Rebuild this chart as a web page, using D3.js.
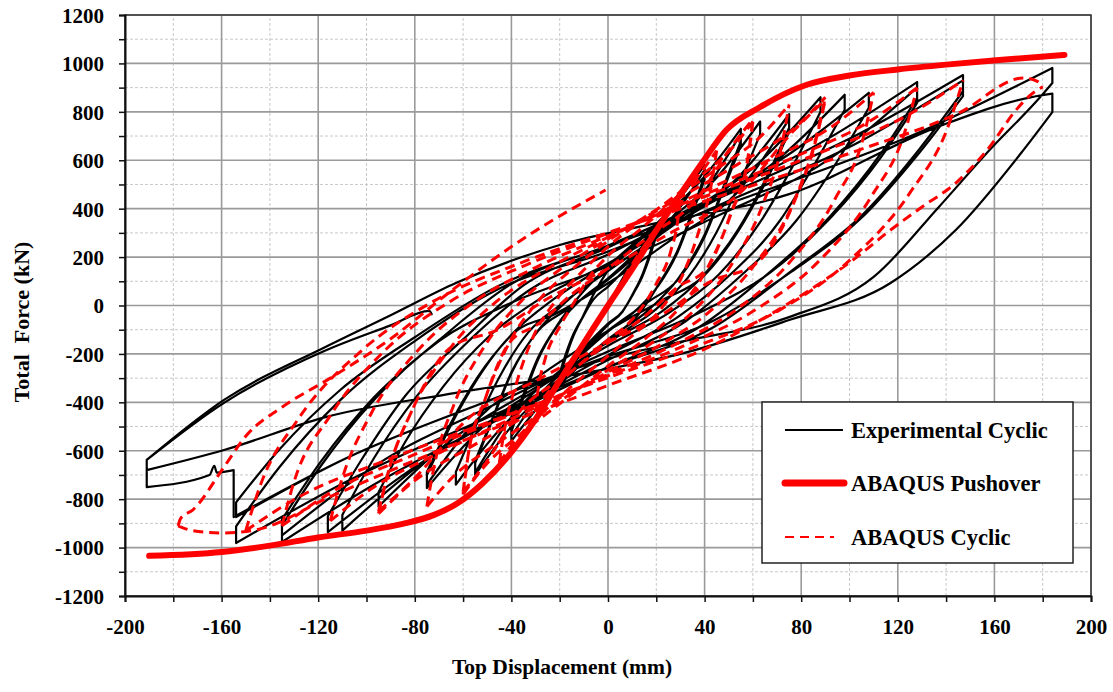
<!DOCTYPE html>
<html>
<head>
<meta charset="utf-8">
<script src="https://cdn.jsdelivr.net/npm/d3@7"></script>
<style>
  body { margin: 0; background: #fff; }
  svg { font-family: "Liberation Serif", "Times New Roman", serif; font-weight: bold; }
</style>
</head>
<body>
<svg id="chart" width="1113" height="692"></svg>
<script>
// axis ticks
var xTicks = [-200, -160, -120, -80, -40, 0, 40, 80, 120, 160, 200];
var yTicks = [-1200, -1000, -800, -600, -400, -200, 0, 200, 400, 600, 800, 1000, 1200];

// experimental cyclic test, [displacement mm, force kN], loop by loop
var exp20a = [[0,0],[6,110],[12,210],[17,290],[20,330],[20,307],[17.6,224],[14.4,132],[10.4,50],[6,-26],[0,-80],[-7,-154],[-14,-234],[-20,-320]];
var exp20b = [[-20,-298],[-17.6,-218],[-14.4,-128],[-10.4,-48],[-6,25],[0,78],[7,149],[14,226],[20,310],[20,288],[17.6,211],[14.4,124],[10.4,47],[6,-24],[0,-75],[-7,-144],[-14,-219],[-20,-300]];
var exp40a = [[-20,-279],[-17.6,-204],[-14.4,-120],[-10.4,-45],[-6,46],[0,145],[14,278],[28,423],[40,580],[40,539],[35,394],[29,232],[21,87],[12,-45],[0,-140],[-14,-269],[-28,-409],[-40,-560]];
var exp40b = [[-40,-521],[-35,-381],[-29,-224],[-21,-84],[-12,17],[0,112],[14,241],[28,381],[40,560],[40,521],[35,381],[29,224],[21,84],[12,-16],[0,-108],[-14,-232],[-28,-367],[-40,-540]];
var exp55a = [[-40,-502],[-35,-367],[-29,-216],[-21,-81],[-12,37],[0,161],[19,329],[38,511],[55,730],[55,679],[48,496],[40,292],[29,110],[16.5,-21],[0,-140],[-19,-301],[-38,-476],[-55,-700]];
var exp55b = [[-55,-651],[-48,-476],[-40,-280],[-29,-105],[-16.5,-14],[0,107],[19,270],[38,447],[55,710],[55,660],[48,483],[40,284],[29,107],[16.5,14],[0,-104],[-19,-262],[-38,-435],[-55,-690]];
var exp63 = [[-55,-642],[-48,-469],[-40,-276],[-29,-104],[-16.5,23],[0,152],[22,327],[44,517],[63,760],[63,707],[55,517],[45,304],[33,114],[19,-22],[0,-148],[-22,-318],[-44,-503],[-63,-740]];
var exp75a = [[-63,-688],[-55,-503],[-45,-296],[-33,-111],[-19,8],[0,142],[26,324],[53,521],[75,790],[75,735],[66,537],[54,316],[39,119],[22.5,-23],[0,-151],[-26,-324],[-53,-513],[-75,-754]];
var exp75b = [[-75,-701],[-66,-513],[-54,-302],[-39,-113],[-22.5,-38],[0,92],[26,270],[53,462],[75,770],[75,716],[66,524],[54,308],[39,116],[22.5,22],[0,-104],[-26,-274],[-53,-459],[-75,-740]];
var exp90 = [[-75,-688],[-66,-503],[-54,-296],[-39,-111],[-22.5,26],[0,172],[31,370],[62,585],[88,860],[88,800],[77,585],[63,344],[46,129],[26,-25],[0,-166],[-33,-357],[-66,-564],[-95,-830]];
var exp100 = [[-95,-772],[-84,-564],[-68,-332],[-49,-125],[-28.5,26],[0,174],[34,374],[69,592],[98,870],[98,809],[86,592],[71,348],[51,131],[29,-47],[0,-205],[-38.5,-419],[-77,-651],[-110,-930]];
var exp110 = [[-110,-865],[-97,-632],[-79,-372],[-57,-140],[-33,61],[0,211],[38,413],[76,632],[108,878],[108,817],[95,597],[78,351],[56,132],[32,-66],[0,-225],[-41,-440],[-81,-674],[-116,-936]];
var exp130a = [[-116,-870],[-102,-636],[-84,-374],[-60,-140],[-35,83],[0,240],[45,452],[90,683],[128,923],[128,858],[113,628],[92,369],[67,138],[38,-88],[0,-254],[-47,-479],[-94,-723],[-135,-977]];
var exp130b = [[-135,-909],[-119,-664],[-97,-391],[-70,-147],[-40.5,9],[0,162],[45,369],[90,594],[128,900],[128,837],[113,612],[92,360],[67,135],[38,-29],[0,-190],[-47,-409],[-94,-646],[-135,-950]];
var exp150a = [[-135,-884],[-119,-646],[-97,-380],[-70,-143],[-40.5,86],[0,248],[51,466],[103,704],[147,952],[147,885],[129,647],[106,381],[76,143],[44,-88],[0,-255],[-54,-481],[-108,-726],[-154,-981]];
var exp150b = [[-154,-912],[-136,-667],[-111,-392],[-80,-147],[-46,65],[0,223],[51,437],[103,670],[147,930],[147,865],[129,632],[106,372],[76,140],[44,-61],[0,-210],[-54,-411],[-108,-629],[-154,-874]];
var exp185a = [[-154,-813],[-136,-594],[-111,-350],[-80,-131],[-46,78],[0,245],[64,471],[129,716],[184,981],[184,919],[179,861],[158,642],[137,407],[110,118],[75,-48],[30,-150],[0,-219],[-54,-411],[-108,-629],[-155,-874],[-155,-680],[-162,-690],[-163,-662],[-165,-700],[-191,-750],[-191,-638]];
var exp185b = [[-159,-390],[-117,-171],[-90,-40],[-63,93],[-20,250],[20,340],[75,460],[137,740],[175,860],[184,875],[184,799],[172,642],[144,312],[117,93],[75,-60],[30,-200],[-3,-267],[-63,-361],[-117,-461],[-159,-597],[-191,-680],[-191,-638]];
var expEnd = [[-159,-402],[-117,-186],[-90,-82],[-74,-22],[-73,-36]];

// ABAQUS cyclic analysis
var abq30 = [[0,0],[10,170],[20,320],[30,450],[29,360],[26,225],[20,90],[14,-9],[8,-79],[0,-141],[-9,-220],[-18,-299],[-26,-374],[-30,-440]];
var abq45 = [[-29,-352],[-26,-220],[-20,-88],[-14,13],[-8,115],[0,205],[14,320],[27,435],[38,544],[45,640],[43,512],[38,320],[31,128],[22,-13],[11,-117],[0,-208],[-14,-325],[-27,-442],[-38,-553],[-45,-650]];
var abq60a = [[-43,-520],[-38,-325],[-31,-130],[-22,15],[-11,137],[0,243],[18,380],[36,517],[51,646],[60,760],[58,608],[51,380],[41,152],[29,-16],[15,-140],[0,-250],[-18,-390],[-36,-530],[-51,-663],[-60,-780]];
var abq60b = [[-58,-624],[-51,-390],[-41,-156],[-29,-77],[-15,46],[0,154],[18,293],[36,431],[51,655],[60,770],[58,616],[51,385],[41,154],[29,77],[15,-46],[0,-154],[-18,-293],[-36,-431],[-51,-655],[-60,-770]];
var abq75 = [[-58,-624],[-51,-390],[-41,-156],[-29,17],[-15,149],[0,266],[23,415],[45,564],[64,706],[75,830],[72,664],[64,415],[51,166],[36,-17],[19,-149],[0,-266],[-23,-415],[-45,-564],[-64,-706],[-75,-830]];
var abq90a = [[-72,-664],[-64,-415],[-51,-166],[-36,17],[-19,155],[0,275],[27,430],[54,585],[77,731],[90,860],[86,688],[77,430],[61,172],[43,-17],[23,-155],[0,-275],[-29,-430],[-57,-585],[-81,-731],[-95,-860]];
var abq90b = [[-91,-688],[-81,-430],[-65,-172],[-46,-102],[-24,34],[0,153],[27,306],[54,459],[77,723],[90,850],[86,680],[77,425],[61,170],[43,102],[23,-34],[0,-153],[-29,-306],[-57,-459],[-81,-723],[-95,-850]];
var abq110 = [[-91,-688],[-81,-430],[-65,-172],[-46,18],[-24,158],[0,282],[33,440],[66,598],[94,748],[110,880],[106,704],[94,440],[75,176],[53,-18],[28,-160],[0,-285],[-35,-445],[-69,-605],[-98,-757],[-115,-890]];
var abq130 = [[-110,-712],[-98,-445],[-78,-178],[-55,18],[-29,162],[0,288],[38,450],[77,612],[109,765],[128,900],[123,720],[109,450],[87,180],[61,-18],[32,-164],[0,-291],[-41,-455],[-81,-619],[-115,-774],[-135,-910]];
var abq150 = [[-130,-728],[-115,-455],[-92,-182],[-65,19],[-34,167],[0,298],[44,465],[88,632],[125,791],[147,930],[141,744],[125,465],[100,186],[71,-19],[37,-167],[0,-298],[-45,-465],[-90,-632],[-128,-791],[-150,-930]];
var abq175 = [[-144,-744],[-128,-465],[-102,-186],[-72,19],[-38,169],[0,301],[52,470],[103,639],[146,799],[172,940],[178,925],[180,903],[175,870],[169,808],[158,655],[144,506],[130,407],[117,312],[103,200],[75,10],[40,-180],[0,-330],[-40,-480],[-80,-640],[-115,-790],[-145,-925],[-160,-940],[-172,-930],[-178,-910],[-177,-880]];
var abqEnd = [[-172,-845],[-159,-667],[-150,-540],[-135,-420],[-115,-300],[-89,-130],[-65,60],[-36,270],[-1,477]];

// ABAQUS pushover (monotonic), both directions
var pushNeg = [[-190,-1034],[-160,-1018],[-140,-992],[-120,-958],[-100,-930],[-85,-902],[-72,-865],[-62,-815],[-52,-735],[-42,-630],[-30,-470],[-20,-310],[-10,-155]];
var pushPos = [[0,0],[10,150],[20,310],[30,460],[39,590],[49,725],[63,820],[82,911],[100,950],[120,975],[140,995],[162,1014],[189,1035]];

var svg = d3.select("#chart");
var x = d3.scaleLinear().domain([-200, 200]).range([125, 1091]);
var y = d3.scaleLinear().domain([-1200, 1200]).range([596, 15]);

// grid: minor dashed, then major solid
var g = svg.append("g");
var xMinor = d3.range(-180, 200, 40);
var yMinor = d3.range(-1100, 1200, 200);
g.selectAll(".xm").data(xMinor).enter().append("line")
  .attr("x1", d => x(d)).attr("x2", d => x(d)).attr("y1", y(-1200)).attr("y2", y(1200))
  .attr("stroke", "#c8c8c8").attr("stroke-width", 1).attr("stroke-dasharray", "3,2");
g.selectAll(".ym").data(yMinor).enter().append("line")
  .attr("x1", x(-200)).attr("x2", x(200)).attr("y1", d => y(d)).attr("y2", d => y(d))
  .attr("stroke", "#c8c8c8").attr("stroke-width", 1).attr("stroke-dasharray", "3,2");
g.selectAll(".xM").data(xTicks).enter().append("line")
  .attr("x1", d => x(d)).attr("x2", d => x(d)).attr("y1", y(-1200)).attr("y2", y(1200))
  .attr("stroke", "#9a9a9a").attr("stroke-width", 1.6);
g.selectAll(".yM").data(yTicks).enter().append("line")
  .attr("x1", x(-200)).attr("x2", x(200)).attr("y1", d => y(d)).attr("y2", d => y(d))
  .attr("stroke", "#9a9a9a").attr("stroke-width", 1.6);

// frame
svg.append("rect").attr("x", x(-200)).attr("y", y(1200))
  .attr("width", x(200) - x(-200)).attr("height", y(-1200) - y(1200))
  .attr("fill", "none").attr("stroke", "#333").attr("stroke-width", 1.5);

// axes
var xAxis = d3.axisBottom(x).tickValues(d3.range(-200, 201, 20))
  .tickSize(6).tickFormat(d => xTicks.indexOf(d) >= 0 ? d : "");
var yAxis = d3.axisLeft(y).tickValues(d3.range(-1200, 1201, 100))
  .tickSize(6).tickFormat(d => yTicks.indexOf(d) >= 0 ? d : "");

var gx = svg.append("g").attr("transform", "translate(0," + y(-1200) + ")").call(xAxis);
var gy = svg.append("g").attr("transform", "translate(" + x(-200) + ",0)").call(yAxis);
[gx, gy].forEach(function (a) {
  a.select(".domain").attr("stroke", "#111").attr("stroke-width", 2);
  a.selectAll(".tick line").attr("stroke", "#111").attr("stroke-width", 1.5);
  a.selectAll("text").attr("fill", "#000").style("font-size", "21px")
    .style("font-family", "'Liberation Serif', serif").style("font-weight", "bold");
});
gx.selectAll("text").attr("dy", "1.4em");
gy.selectAll("text").attr("x", -21).attr("dy", "0.35em");

svg.append("text").attr("x", 562).attr("y", 674).attr("text-anchor", "middle")
  .style("font-size", "21.5px").text("Top Displacement (mm)");
svg.append("text").attr("transform", "translate(29,322) rotate(-90)").attr("text-anchor", "middle")
  .style("font-size", "22px").style("white-space", "pre").attr("xml:space", "preserve")
  .text("Total  Force (kN)");

// split a path where the displacement turns back, so each branch is drawn smooth and tips stay sharp
var smooth = d3.line().x(d => x(d[0])).y(d => y(d[1])).curve(d3.curveMonotoneX);
var straight = d3.line().x(d => x(d[0])).y(d => y(d[1]));
function branches(pts) {
  var out = [], cur = [pts[0]], dir = 0;
  for (var i = 1; i < pts.length; i++) {
    var dx = pts[i][0] - pts[i - 1][0];
    var s = dx > 0 ? 1 : (dx < 0 ? -1 : 0);
    if (cur.length === 1) { dir = s; cur.push(pts[i]); continue; }
    if (s === dir && s !== 0) { cur.push(pts[i]); }
    else { out.push({ pts: cur, dir: dir }); cur = [pts[i - 1], pts[i]]; dir = s; }
  }
  out.push({ pts: cur, dir: dir });
  return out.map(function (b) {
    if (b.dir === 0) return straight(b.pts);
    var p = b.dir < 0 ? b.pts.slice().reverse() : b.pts;
    return smooth(p);
  }).join("");
}

var plot = svg.append("g");

var expPath = [].concat(exp20a, exp20b, exp40a, exp40b, exp55a, exp55b, exp63, exp75a, exp75b, exp90, exp100, exp110,
  exp130a, exp130b, exp150a, exp150b, exp185a, exp185b, expEnd);
plot.append("path").attr("d", branches(expPath))
  .attr("fill", "none").attr("stroke", "#000").attr("stroke-width", 2.2)
  .attr("stroke-linejoin", "round").attr("stroke-linecap", "round");

var abqPath = [].concat(abq30, abq45, abq60a, abq60b, abq75, abq90a, abq90b, abq110, abq130, abq150, abq175, abqEnd);
plot.append("path").attr("d", branches(abqPath))
  .attr("fill", "none").attr("stroke", "#ff0000").attr("stroke-width", 3).attr("stroke-dasharray", "10,6");

plot.append("path").attr("d", smooth([].concat(pushNeg, pushPos)))
  .attr("fill", "none").attr("stroke", "#ff0000").attr("stroke-width", 6).attr("stroke-linecap", "round");

// legend
var lg = svg.append("g");
lg.append("rect").attr("x", 762).attr("y", 402).attr("width", 311).attr("height", 161)
  .attr("fill", "#fff").attr("stroke", "#222").attr("stroke-width", 1.5);
var legendItems = [
  { label: "Experimental Cyclic", stroke: "#000", width: 2, dash: null, y: 430, x1: 785, x2: 843 },
  { label: "ABAQUS Pushover", stroke: "#ff0000", width: 7, dash: null, y: 483, x1: 785, x2: 844 },
  { label: "ABAQUS Cyclic", stroke: "#ff0000", width: 2, dash: "9,6", y: 537, x1: 785, x2: 834 }
];
legendItems.forEach(function (it) {
  lg.append("line").attr("x1", it.x1).attr("x2", it.x2).attr("y1", it.y).attr("y2", it.y)
    .attr("stroke", it.stroke).attr("stroke-width", it.width)
    .attr("stroke-linecap", it.width > 4 ? "round" : "butt")
    .attr("stroke-dasharray", it.dash);
  lg.append("text").attr("x", 851).attr("y", it.y + 8).style("font-size", "22.5px").text(it.label);
});
</script>
</body>
</html>
